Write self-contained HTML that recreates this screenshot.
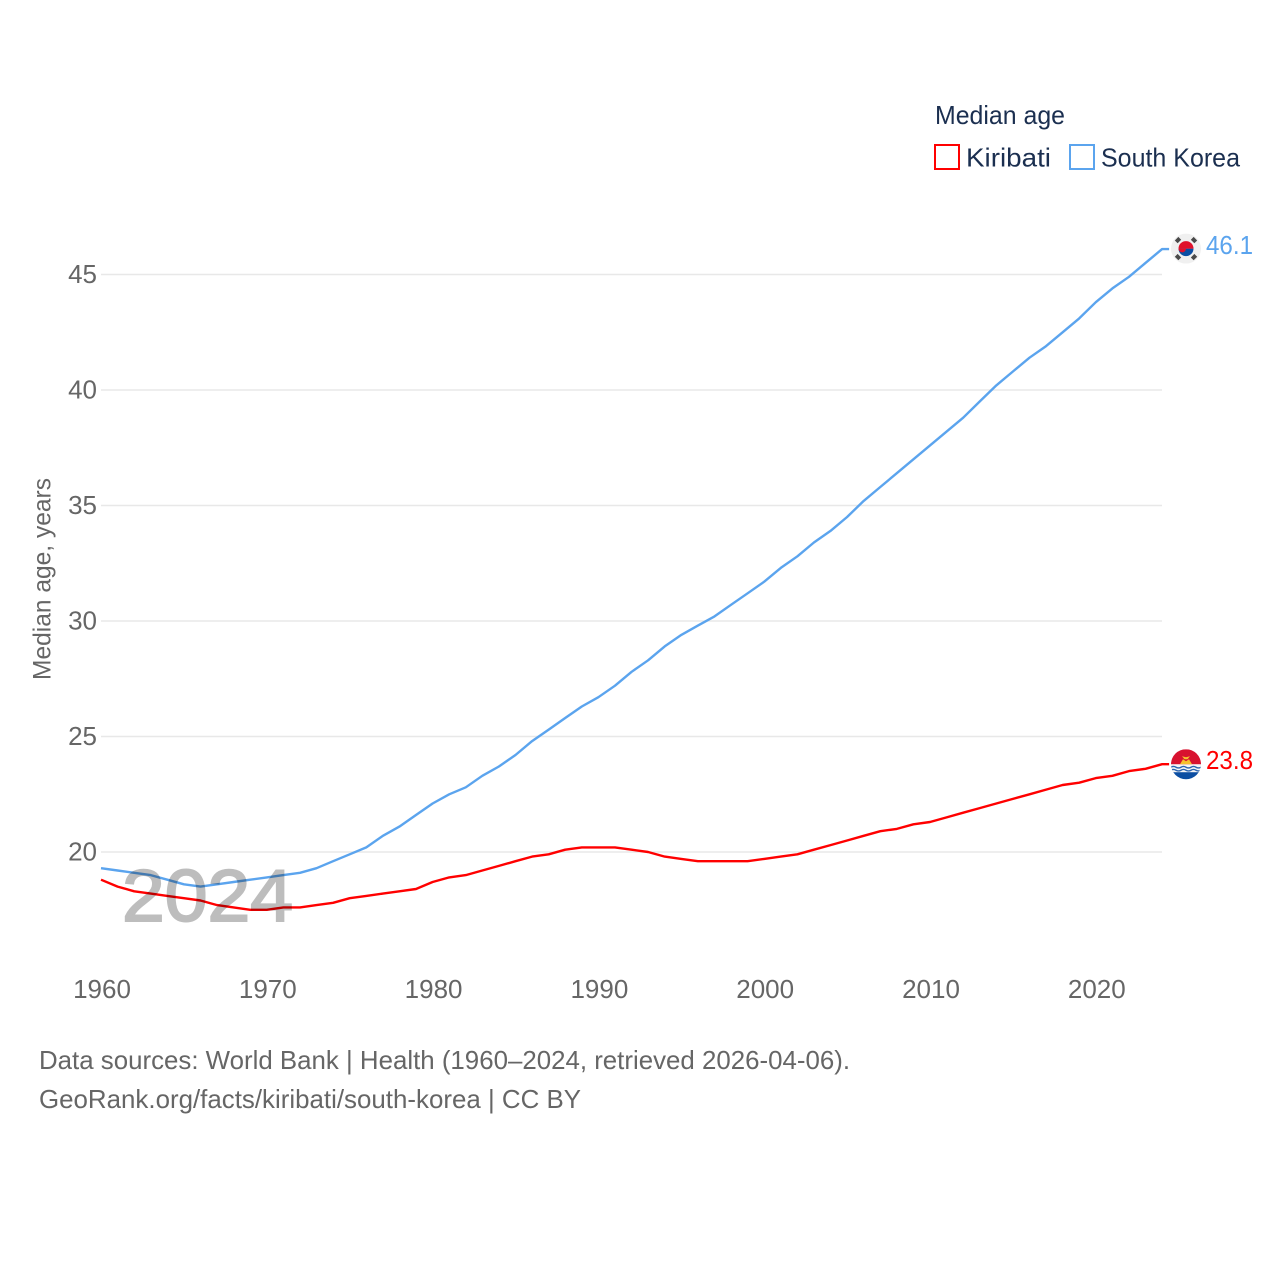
<!DOCTYPE html>
<html lang="en">
<head>
<meta charset="utf-8">
<title>Median age: Kiribati and South Korea</title>
<style>
html,body{margin:0;padding:0;background:#fff;width:1280px;height:1280px;overflow:hidden}
svg{display:block}
text{font-family:"Liberation Sans",sans-serif}
</style>
</head>
<body>
<svg id="chart" xmlns="http://www.w3.org/2000/svg" width="1280" height="1280" viewBox="0 0 1280 1280">
  <defs>
    <clipPath id="flag-clip"><circle cx="0" cy="0" r="15"/></clipPath>
  </defs>
  <rect width="1280" height="1280" fill="#fff"/>
  <g id="grid"></g>
  <g id="y-ticks"></g>
  <g id="x-ticks"></g>
  <text transform="translate(50.500,680) rotate(-90)" font-size="25" fill="#666" textLength="202" lengthAdjust="spacingAndGlyphs">Median age, years</text>

  <g id="series"></g>
  <text x="122" y="921" font-size="73" fill="#bdbdbd" stroke="#bdbdbd" stroke-width="2" style="mix-blend-mode:multiply" textLength="171" lengthAdjust="spacingAndGlyphs">2024</text>

  <g id="flag-korea">
    <g clip-path="url(#flag-clip)">
      <rect x="-15" y="-15" width="30" height="30" fill="#f0f0f0"/>
      <path d="M-7.5 0A7.500 7.500 0 0 1 7.500 0Z" fill="#e0112b"/>
      <path d="M-7.5 0A7.500 7.500 0 0 0 7.500 0Z" fill="#0b4ea2"/>
      <path d="M-7.5 0A3.750 3.750 0 0 0 0 0A3.750 3.750 0 0 1 7.500 0" fill="#e0112b"/>
      <g fill="#4a4a4a">
        <rect x="-2.500" y="-2" width="5" height="4" transform="translate(-8,-8.500) rotate(-45)"/>
        <rect x="-2.500" y="-2" width="5" height="4" transform="translate(8,-8.500) rotate(45)"/>
        <rect x="-2.500" y="-2" width="5" height="4" transform="translate(-8,8.500) rotate(45)"/>
        <rect x="-2.500" y="-2" width="5" height="4" transform="translate(8,8.500) rotate(-45)"/>
      </g>
    </g>
  </g>

  <g id="flag-kiribati">
    <g clip-path="url(#flag-clip)">
      <rect x="-15" y="-15" width="30" height="16" fill="#d8122f"/>
      <rect x="-15" y="0" width="30" height="9" fill="#f5f5f5"/>
      <rect x="-15" y="8" width="30" height="8" fill="#0b4ea2"/>
      <path d="M-6 0L-3 -5L0 -3L3 -5L6 0Z" fill="#f6c02c"/>
      <path d="M-4 -8L0 -7L4 -8L1.500 -5H-1.500Z" fill="#f6c02c"/>
      <g stroke="#2a64b0" stroke-width="1.400" fill="none">
        <path d="M-15 3q2.500 -1.500 5 0t5 0t5 0t5 0t5 0t5 0"/>
        <path d="M-15 6q2.500 -1.500 5 0t5 0t5 0t5 0t5 0t5 0"/>
      </g>
    </g>
  </g>

  <text id="label-korea" x="1206" font-size="26" fill="#5ba4ee" textLength="47" lengthAdjust="spacingAndGlyphs"></text>
  <text id="label-kiribati" x="1206" font-size="26" fill="#ff0000" textLength="47" lengthAdjust="spacingAndGlyphs"></text>

  <g>
    <text x="935" y="124" font-size="26" fill="#1b2f50" textLength="130" lengthAdjust="spacingAndGlyphs">Median age</text>
    <rect x="935" y="145" width="24" height="24" fill="#fff" stroke="#ff0000" stroke-width="2"/>
    <text x="966" y="166.500" font-size="26" fill="#1b2f50" textLength="85" lengthAdjust="spacingAndGlyphs">Kiribati</text>
    <rect x="1070" y="145" width="24" height="24" fill="#fff" stroke="#5ba4ee" stroke-width="2"/>
    <text x="1101" y="166.500" font-size="26" fill="#1b2f50" textLength="139" lengthAdjust="spacingAndGlyphs">South Korea</text>
  </g>

  <text x="39" y="1069" font-size="26" fill="#666" textLength="811" lengthAdjust="spacingAndGlyphs">Data sources: World Bank | Health (1960–2024, retrieved 2026-04-06).</text>
  <text x="39" y="1108" font-size="26" fill="#666" textLength="542" lengthAdjust="spacingAndGlyphs">GeoRank.org/facts/kiribati/south-korea | CC BY</text>
</svg>
<script>
const firstYear = 1960;
const kiribatiValues = [18.8,18.5,18.3,18.2,18.1,18.0,17.9,17.7,17.6,17.5,17.5,17.6,17.6,17.7,17.8,18.0,18.1,18.2,18.3,18.4,18.7,18.9,19.0,19.2,19.4,19.6,19.8,19.9,20.1,20.2,20.2,20.2,20.1,20.0,19.8,19.7,19.6,19.6,19.6,19.6,19.7,19.8,19.9,20.1,20.3,20.5,20.7,20.9,21.0,21.2,21.3,21.5,21.7,21.9,22.1,22.3,22.5,22.7,22.9,23.0,23.2,23.3,23.5,23.6,23.8];
const koreaValues = [19.3,19.2,19.1,19.0,18.8,18.6,18.5,18.6,18.7,18.8,18.9,19.0,19.1,19.3,19.6,19.9,20.2,20.7,21.1,21.6,22.1,22.5,22.8,23.3,23.7,24.2,24.8,25.3,25.8,26.3,26.7,27.2,27.8,28.3,28.9,29.4,29.8,30.2,30.7,31.2,31.7,32.3,32.8,33.4,33.9,34.5,35.2,35.8,36.4,37.0,37.6,38.2,38.8,39.5,40.2,40.8,41.4,41.9,42.5,43.1,43.8,44.4,44.9,45.5,46.1];
const yTickValues = [20,25,30,35,40,45];
const xTickValues = [1960,1970,1980,1990,2000,2010,2020];

const NS = 'http://www.w3.org/2000/svg';
function xScale(year){ return 101 + (year - 1960) * 16.58; }
function yScale(v){ return 852 - (v - 20) * 23.1; }

const gridGroup = document.getElementById('grid');
const yTickGroup = document.getElementById('y-ticks');
yTickValues.forEach(function(v){
  const line = document.createElementNS(NS, 'line');
  
  
  line.setAttribute('x1', 101);
  line.setAttribute('x2', 1162);
  line.setAttribute('y1', yScale(v));
  line.setAttribute('y2', yScale(v));
  line.setAttribute('stroke', '#e8e8e8');
  line.setAttribute('stroke-width', 1.5);
  gridGroup.appendChild(line);
  const label = document.createElementNS(NS, 'text');
  
  
  label.setAttribute('x', 97);
  label.setAttribute('y', yScale(v) + 8.5);
  label.setAttribute('text-anchor', 'end');
  label.setAttribute('font-size', 26);
  label.setAttribute('fill', '#666');
  label.textContent = v;
  yTickGroup.appendChild(label);
});

const xTickGroup = document.getElementById('x-ticks');
xTickValues.forEach(function(year){
  const label = document.createElementNS(NS, 'text');
  
  
  label.setAttribute('x', xScale(year) + 1);
  label.setAttribute('y', 998);
  label.setAttribute('text-anchor', 'middle');
  label.setAttribute('font-size', 26);
  label.setAttribute('fill', '#666');
  label.textContent = year;
  xTickGroup.appendChild(label);
});

function pathFor(values){
  let d = '';
  values.forEach(function(v, i){
    d += (i ? 'L' : 'M') + xScale(firstYear + i).toFixed(1) + ' ' + yScale(v).toFixed(1);
  });
  d += 'L' + (xScale(firstYear + values.length - 1) + 7).toFixed(1) + ' ' + yScale(values[values.length - 1]).toFixed(1);
  return d;
}

const seriesGroup = document.getElementById('series');
const koreaLine = document.createElementNS(NS, 'path');


koreaLine.setAttribute('d', pathFor(koreaValues));
koreaLine.setAttribute('fill', 'none');
koreaLine.setAttribute('stroke', '#5ba4ee');
koreaLine.setAttribute('stroke-width', 2.4);
koreaLine.setAttribute('stroke-linejoin', 'round');
seriesGroup.appendChild(koreaLine);

const kiribatiLine = document.createElementNS(NS, 'path');


kiribatiLine.setAttribute('d', pathFor(kiribatiValues));
kiribatiLine.setAttribute('fill', 'none');
kiribatiLine.setAttribute('stroke', '#ff0000');
kiribatiLine.setAttribute('stroke-width', 2.4);
kiribatiLine.setAttribute('stroke-linejoin', 'round');
seriesGroup.appendChild(kiribatiLine);

const koreaLast = koreaValues[koreaValues.length - 1];
const kiribatiLast = kiribatiValues[kiribatiValues.length - 1];
document.getElementById('flag-korea').setAttribute('transform', 'translate(1186,' + (yScale(koreaLast) - 0.5) + ')');
document.getElementById('flag-kiribati').setAttribute('transform', 'translate(1186,' + yScale(kiribatiLast) + ')');
const koreaLabel = document.getElementById('label-korea');
koreaLabel.setAttribute('y', yScale(koreaLast) + 5);
koreaLabel.textContent = koreaLast.toFixed(1);
const kiribatiLabel = document.getElementById('label-kiribati');
kiribatiLabel.setAttribute('y', yScale(kiribatiLast) + 5);
kiribatiLabel.textContent = kiribatiLast.toFixed(1);
</script>
</body>
</html>
